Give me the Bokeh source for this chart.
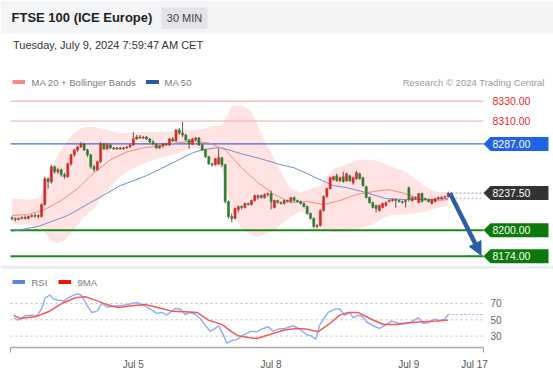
from bokeh.plotting import figure
from bokeh.layouts import column
from bokeh.models import Range1d, FixedTicker, Arrow, NormalHead
from bokeh.core.properties import value
from bokeh.embed import file_html
from bokeh.resources import INLINE

FONT = "Liberation Sans"

# ---------------- data (30-min bars, index 0..133) ----------------
opens = [8213, 8212, 8211, 8212, 8213, 8212, 8214, 8215, 8214, 8214,
         8226, 8252, 8249, 8264, 8259, 8261, 8256, 8254, 8267, 8276,
         8281, 8284, 8287, 8281, 8276, 8264, 8261, 8269, 8287, 8282,
         8286, 8283, 8282, 8283, 8282, 8283, 8284, 8286, 8292, 8294,
         8293, 8294, 8292, 8289, 8287, 8283, 8285, 8287, 8286, 8292,
         8290, 8301, 8298, 8296, 8291, 8287, 8291, 8293, 8286, 8281,
         8274, 8267, 8266, 8267, 8273, 8266, 8229, 8214, 8212, 8221,
         8224, 8223, 8227, 8226, 8230, 8233, 8235, 8233, 8236, 8237,
         8223, 8230, 8228, 8227, 8230, 8229, 8233, 8230, 8229, 8227,
         8224, 8217, 8212, 8204, 8205, 8220, 8234, 8242, 8251, 8255,
         8250, 8254, 8250, 8255, 8248, 8252, 8257, 8253, 8244, 8233,
         8228, 8225, 8220, 8223, 8225, 8229, 8230, 8231, 8230, 8229,
         8229, 8243, 8230, 8233, 8228, 8237, 8232, 8231, 8227, 8229,
         8232, 8232, 8233.5, 8234]
highs = [8214, 8213, 8213, 8214, 8215, 8215, 8216, 8217, 8216, 8227,
         8254, 8253, 8266, 8265, 8263, 8262, 8258, 8268, 8277, 8282,
         8285, 8289, 8288, 8282, 8277, 8266, 8270, 8289, 8288, 8288,
         8287, 8284, 8284, 8284, 8284, 8285, 8287, 8299, 8296, 8296,
         8295, 8295, 8293, 8291, 8288, 8286, 8288, 8288, 8293, 8294,
         8302, 8303, 8309, 8297, 8292, 8293, 8294, 8294, 8287, 8282,
         8275, 8268, 8273, 8282, 8274, 8267, 8230, 8217, 8223, 8225,
         8225, 8228, 8228, 8231, 8236, 8236, 8236, 8237, 8238, 8240,
         8231, 8231, 8229, 8231, 8231, 8233, 8234, 8231, 8230, 8228,
         8225, 8218, 8213, 8206, 8221, 8235, 8243, 8254, 8255, 8257,
         8254, 8259, 8258, 8256, 8254, 8260, 8258, 8254, 8245, 8234,
         8229, 8226, 8226, 8228, 8229, 8231, 8232, 8232, 8231, 8230,
         8231, 8244, 8234, 8234, 8237, 8238, 8233, 8232, 8231, 8232,
         8234, 8234, 8235, 8239]
lows = [8210, 8209, 8210, 8211, 8211, 8211, 8213, 8213, 8212, 8213,
        8225, 8242, 8247, 8257, 8257, 8254, 8252, 8253, 8265, 8274,
        8279, 8283, 8280, 8274, 8262, 8259, 8260, 8268, 8281, 8281,
        8282, 8281, 8281, 8281, 8281, 8282, 8283, 8285, 8291, 8292,
        8292, 8291, 8288, 8286, 8282, 8282, 8283, 8285, 8285, 8289,
        8289, 8296, 8294, 8290, 8282, 8286, 8290, 8285, 8280, 8273,
        8266, 8264, 8265, 8266, 8264, 8227, 8212, 8208, 8211, 8218,
        8221, 8222, 8225, 8225, 8229, 8231, 8232, 8232, 8234, 8221,
        8222, 8227, 8226, 8226, 8228, 8228, 8229, 8228, 8226, 8223,
        8216, 8211, 8202, 8202, 8204, 8219, 8233, 8241, 8250, 8249,
        8249, 8248, 8249, 8249, 8246, 8251, 8251, 8244, 8232, 8227,
        8222, 8218, 8219, 8222, 8224, 8228, 8229, 8223, 8228, 8227,
        8223, 8229, 8229, 8231, 8227, 8228, 8230, 8228, 8226, 8228,
        8231, 8231, 8232, 8233]
closes = [8212, 8211, 8212, 8213, 8212, 8214, 8215, 8214, 8215, 8226,
          8252, 8249, 8264, 8259, 8261, 8256, 8254, 8267, 8276, 8281,
          8284, 8287, 8281, 8276, 8264, 8261, 8269, 8287, 8282, 8286,
          8283, 8282, 8283, 8282, 8283, 8284, 8286, 8292, 8294, 8293,
          8294, 8292, 8289, 8287, 8283, 8285, 8287, 8286, 8292, 8290,
          8301, 8298, 8296, 8291, 8287, 8292, 8293, 8286, 8281, 8274,
          8267, 8266, 8272, 8273, 8266, 8229, 8214, 8212, 8222, 8224,
          8223, 8227, 8226, 8230, 8235, 8235, 8233, 8236, 8237, 8229,
          8230, 8228, 8227, 8230, 8229, 8233, 8230, 8229, 8227, 8224,
          8217, 8212, 8204, 8205, 8220, 8234, 8242, 8253, 8254, 8250,
          8253, 8249, 8257, 8250, 8253, 8258, 8252, 8245, 8233, 8228,
          8223, 8222, 8225, 8227, 8228, 8230, 8231, 8230, 8229, 8228,
          8230, 8231, 8233, 8232, 8237, 8229, 8231, 8229, 8231, 8232,
          8233, 8233.5, 8234, 8237.5]

ma20_x = [0, 5, 10, 15, 20, 25, 30, 35, 40, 45, 50, 55, 60, 65, 70, 75, 80,
          85, 90, 95, 100, 105, 110, 115, 120, 125, 130, 133]
ma20 = [8215, 8216, 8221, 8230, 8242, 8258, 8271, 8279, 8283, 8285, 8288,
        8290, 8288, 8281, 8263, 8248, 8236, 8228, 8229, 8226, 8230, 8236,
        8239, 8241, 8237, 8231, 8230, 8231]

bb_x = [0, 4, 8, 10, 12, 14, 16, 18, 20, 22, 25, 28, 30, 33, 36, 40, 45, 50,
        55, 58, 60, 62, 64, 65, 66, 67, 70, 73, 75, 77, 80, 82, 85, 88, 90,
        92, 94, 96, 98, 100, 103, 106, 110, 113, 116, 120, 123, 126, 129, 133]
bb_upper = [8232, 8231, 8232, 8245, 8262, 8276, 8286, 8295, 8301, 8304,
            8304, 8302, 8300, 8298, 8298, 8299, 8299, 8300, 8301, 8302,
            8304, 8305, 8306, 8310, 8318, 8325, 8326, 8320, 8305, 8290,
            8272, 8258, 8242, 8238, 8240, 8243, 8245, 8254, 8262, 8264,
            8268, 8271, 8271, 8268, 8264, 8259, 8252, 8244, 8239, 8238]
bb_lower = [8206, 8206, 8204, 8197, 8190, 8187, 8190, 8197, 8205, 8214,
            8222, 8236, 8244, 8254, 8261, 8267, 8273, 8277, 8283, 8280,
            8272, 8266, 8262, 8250, 8232, 8220, 8201, 8195, 8193, 8196,
            8200, 8206, 8214, 8219, 8216, 8204, 8201, 8200, 8198, 8198,
            8199, 8202, 8206, 8212, 8216, 8216, 8217, 8219, 8222, 8225]

ma50_x = [0, 8, 17, 25, 33, 41, 49, 55, 58, 62, 64, 67, 70, 76, 82, 86, 92,
          98, 102, 108, 114, 120, 126, 133]
ma50 = [8199, 8204, 8215, 8230, 8245, 8255, 8268, 8278, 8281, 8283, 8283,
        8280, 8277, 8272, 8266, 8263, 8254, 8245, 8243, 8238, 8232, 8231,
        8231, 8232]

rsi_x = [0.5, 1.9, 4, 6, 7.6, 9.1, 10.1, 11.6, 12.6, 14.2, 15.7, 17.2, 18.8,
         20.3, 21.3, 22.8, 24.3, 25.9, 27.4, 28.9, 30.4, 32.5, 34.5, 36.5, 38,
         39.6, 41.1, 42.6, 44.1, 45.7, 47.2, 48.2, 49.8, 51.3, 52.8, 54.3,
         55.9, 57.4, 58.9, 60.4, 62, 63, 64, 65.5, 67, 68.4, 70.5, 73, 74.6,
         76.1, 78.1, 79.6, 81.2, 83.2, 85.7, 87.7, 89.8, 91.3, 92.6, 93.8,
         95.1, 96.4, 98.4, 99.9, 101.5, 103, 104, 105.5, 106.6, 108.1, 110.1,
         112.1, 114.2, 115.7, 118.2, 120.3, 121.8, 123.8, 125.4, 126.9, 128.9,
         130.4, 132, 133]
rsi = [52.4, 49.6, 54.9, 55.7, 54.9, 63.9, 76.9, 80.2, 75.3, 74, 72.9, 76.9,
       80.2, 81.8, 79.4, 68, 59, 60.6, 70, 65.9, 65.9, 67.1, 68, 70, 71.2,
       68.8, 65.9, 61.8, 57.8, 59, 55.7, 59, 63.9, 63.1, 56.5, 59, 56.5, 51.6,
       43.5, 36.1, 39.4, 42.7, 35.3, 21.5, 24.5, 25.5, 31.2, 36.1, 35.3, 38.6,
       41.4, 36.1, 38.6, 39.4, 42.7, 38.6, 32, 30, 26.3, 43.5, 51.6, 59, 63.1,
       63.1, 55.7, 59, 52.4, 55.7, 54.9, 47.6, 42.7, 39.4, 44.3, 48.4, 45.5,
       45.5, 47.6, 52.4, 45.5, 46.7, 50.8, 49.2, 50.8, 56.5]

ma9_x = [0.5, 2.5, 7.1, 11.1, 15.2, 19.3, 22.3, 25.4, 29.4, 32.5, 36.5, 40.6,
         44.7, 48.7, 52.8, 56.4, 59.9, 64, 67, 69, 72.5, 74.6, 78.6, 82.7,
         86.7, 89.8, 93.3, 96.9, 99.9, 102.5, 105.5, 109.1, 113.2, 117.2,
         121.3, 125.4, 129.4, 133]
ma9 = [55.7, 51.6, 53.7, 59.8, 70, 76.9, 78.2, 74.1, 68, 65.1, 67.1, 68.8,
       64.7, 60.6, 59.8, 59, 49.6, 44.3, 35.3, 30.4, 28, 27.1, 32, 37.3, 39.4,
       38.6, 35.3, 45.5, 55.7, 59, 59, 51.6, 44.3, 44.3, 46.3, 47.6, 48.4,
       49.6]

level_prices = [8330.0, 8310.0, 8287.0, 8200.0, 8174.0]
box_prices = [8287.0, 8237.5, 8200.0, 8174.0]
last_price = 8237.5
ma50_last = 8232.4
target_price = 8175.0
rsi_levels = [30, 50, 70]
tick_bars = [37, 79, 121, 141]
tick_labels = ["Jul 5", "Jul 8", "Jul 9", "Jul 17"]

# ---------------- pixel layout helpers (page pixels) ----------------
W = 553
X0, DX = 11.5, 3.28          # x pixel of bar 0, pixels per bar
Y8330, PK = 100.7, 0.9936    # y pixel of 8330, pixels per point
R50, RK = 319.3, 0.8175      # y pixel of RSI 50, pixels per RSI unit


def bx(px):
    return (px - X0) / DX


def py(ypx):
    return 8330.0 - (ypx - Y8330) / PK


def ry(ypx):
    return 50.0 - (ypx - R50) / RK


def make_fig(xaxis=None, bottom=0, **kw):
    p = figure(output_backend="svg", toolbar_location=None,
               x_axis_location=xaxis, y_axis_location=None,
               outline_line_color=None, min_border_left=0, min_border_right=0,
               min_border_top=0, min_border_bottom=bottom,
               background_fill_color="white", border_fill_color="white", **kw)
    p.xgrid.visible = False
    p.ygrid.visible = False
    return p


def txt(p, x, y, s, size, color, align="left", style="normal"):
    p.text(x=[x], y=[y], text=[s], text_font=value(FONT),
           text_font_size=value(size), text_color=color, text_align=align,
           text_baseline="middle", text_font_style=style)


# ---------------- header ----------------
hdr = make_fig(width=W, height=92, x_range=Range1d(0, W), y_range=Range1d(92, 0))
hdr.quad(left=[0], right=[W], top=[0], bottom=[33.5], fill_color="#f3f4f6", line_color=None)
hdr.quad(left=[161], right=[207], top=[6.7], bottom=[28.5], fill_color="#e2e4e7", line_color=None)
txt(hdr, 11, 17, "FTSE 100 (ICE Europe)", "13px", "#222222", style="bold")
txt(hdr, 184, 17, "30 MIN", "11px", "#444444", align="center")
txt(hdr, 12.5, 44.3, "Tuesday, July 9, 2024 7:59:47 AM CET", "11px", "#333333")
hdr.quad(left=[12], right=[24.5], top=[79.6], bottom=[83.6], fill_color="#f58a8a", line_color=None)
txt(hdr, 31, 81.6, "MA 20 + Bollinger Bands", "9.5px", "#7a7a7a")
hdr.quad(left=[145.5], right=[158.5], top=[79.6], bottom=[83.6], fill_color="#2d5a9e", line_color=None)
txt(hdr, 164, 81.6, "MA 50", "9.5px", "#7a7a7a")
txt(hdr, 544, 81.6, "Research \u00a9 2024 Trading Central", "9.5px", "#9a9a9a", align="right")

# ---------------- price panel ----------------
UP, DOWN, WICK = "#d42a2a", "#2f7d2f", "#555555"
main = make_fig(width=W, height=177, x_range=Range1d(bx(0), bx(W)),
                y_range=Range1d(py(269), py(92)))
main.varea(x=bb_x, y1=bb_lower, y2=bb_upper, fill_color="#ff1a1a", fill_alpha=0.12)

lvl_colors = ["#f7a3a3", "#f7a3a3", "#3a6fd8", "#1a8a1a", "#1a8a1a"]
lvl_widths = [1, 1, 1.2, 2, 2]
n = len(level_prices)
main.segment(x0=[bx(10)] * n, x1=[bx(483)] * n, y0=level_prices, y1=level_prices,
             line_color=lvl_colors, line_width=lvl_widths)

main.line(ma50_x, ma50, line_color="#6f8fca", line_width=1)
main.line(ma20_x, ma20, line_color="#f4877f", line_width=1)

idx = list(range(len(closes)))
cols = [UP if c >= o else DOWN for o, c in zip(opens, closes)]
main.segment(x0=idx, x1=idx, y0=lows, y1=highs, line_color=WICK, line_width=1)
main.vbar(x=idx, width=0.62, top=[max(o, c) for o, c in zip(opens, closes)],
          bottom=[min(o, c) for o, c in zip(opens, closes)],
          fill_color=cols, line_color=cols, line_width=0.6)

main.segment(x0=[bx(451), bx(451)], x1=[bx(483), bx(483)],
             y0=[last_price, ma50_last], y1=[last_price, ma50_last],
             line_color=["#8c9bb8", "#9db3e0"], line_width=1, line_dash="2 2")

h = 7.0 / PK
xs, ys = [], []
for pr in box_prices:
    xs.append([bx(483), bx(490), bx(548), bx(548), bx(490)])
    ys.append([pr, pr + h, pr + h, pr - h, pr - h])
main.patches(xs, ys, fill_color=["#1f62e6", "#333333", "#0b7a0b", "#0b7a0b"], line_color=None)
main.text(x=[bx(492)] * len(box_prices), y=box_prices, text=[f"{v:.2f}" for v in box_prices],
          text_font=value(FONT), text_font_size=value("10.5px"), text_color="white",
          text_baseline="middle")
main.text(x=[bx(492)] * 2, y=level_prices[:2], text=[f"{v:.2f}" for v in level_prices[:2]],
          text_font=value(FONT), text_font_size=value("10.5px"), text_color="#ee2727",
          text_baseline="middle")

ARROW = "#2b5ea7"
main.add_layout(Arrow(end=NormalHead(size=13, fill_color=ARROW, line_color=ARROW),
                      x_start=idx[-1] + 0.5, y_start=last_price,
                      x_end=bx(480.5), y_end=target_price,
                      line_color=ARROW, line_width=4.5))

main.quad(left=[bx(0)], right=[bx(W)], top=[py(265)], bottom=[py(269)],
          fill_color="#eceff2", line_color=None)

# ---------------- RSI panel ----------------
rp = make_fig(xaxis="below", bottom=28, width=W, height=106,
              x_range=Range1d(bx(0), bx(W)), y_range=Range1d(ry(347), ry(269)))

rp.xaxis.bounds = (bx(10), bx(483))
rp.xaxis.ticker = FixedTicker(ticks=tick_bars, minor_ticks=[bx(10) + 0.1, bx(483) - 0.1])
rp.xaxis.major_label_overrides = {b: s for b, s in zip(tick_bars, tick_labels)}
rp.xaxis.major_tick_line_color = None
rp.xaxis.major_tick_out = 0
rp.xaxis.major_tick_in = 0
rp.xaxis.minor_tick_line_color = "#999999"
rp.xaxis.minor_tick_in = 0
rp.xaxis.minor_tick_out = 5
rp.xaxis.axis_line_color = "#aaaaaa"
rp.xaxis.axis_line_width = 1.5
rp.xaxis.major_label_standoff = 6
rp.xaxis.major_label_text_font = FONT
rp.xaxis.major_label_text_font_size = "10px"
rp.xaxis.major_label_text_color = "#555555"

nl = len(rsi_levels)
rp.segment(x0=[bx(10)] * nl, x1=[bx(483)] * nl, y0=rsi_levels, y1=rsi_levels,
           line_color="#bdbdbd", line_width=1, line_dash="2 3")
rp.text(x=[bx(490)] * nl, y=rsi_levels, text=[str(v) for v in rsi_levels],
        text_font=value(FONT), text_font_size=value("10px"), text_color="#666666",
        text_baseline="middle")

rp.line(rsi_x, rsi, line_color="#8fb0f2", line_width=1.5)
rp.line(ma9_x, ma9, line_color="#f25a5a", line_width=1.5)
rp.segment(x0=[rsi_x[-1]], x1=[bx(483)], y0=[rsi[-1]], y1=[rsi[-1]],
           line_color="#8fb0f2", line_width=1.2, line_dash="2 2")

rp.quad(left=[bx(12)], right=[bx(24.5)], top=[ry(279.6)], bottom=[ry(283.6)],
        fill_color="#5b84e0", line_color=None)
rp.quad(left=[bx(58)], right=[bx(70.5)], top=[ry(279.6)], bottom=[ry(283.6)],
        fill_color="#ee1111", line_color=None)
rp.text(x=[bx(31), bx(77)], y=[ry(281.6)] * 2, text=["RSI", "9MA"],
        text_font=value(FONT), text_font_size=value("9.5px"), text_color="#7a7a7a",
        text_baseline="middle")

layout = column(hdr, main, rp, spacing=0)
open("out.html", "w").write(file_html(layout, INLINE, title="FTSE 100 (ICE Europe)"))
